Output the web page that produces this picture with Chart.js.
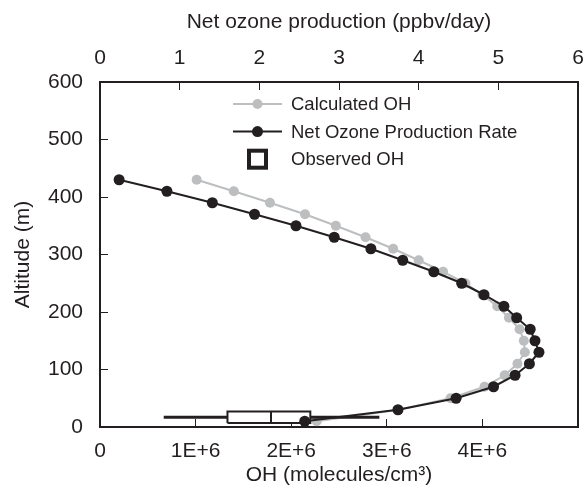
<!DOCTYPE html>
<html>
<head>
<meta charset="utf-8">
<script src="https://cdn.jsdelivr.net/npm/chart.js@4.4.0/dist/chart.umd.min.js"></script>
<style>
	html, body { margin: 0; padding: 0; background: #fff; }
	#wrap { width: 585px; height: 500px; }
</style>
</head>
<body>
<div id="wrap"><canvas id="chart-ozone-oh"></canvas></div>
<script>
//---------------------------------------------------------
// Data
//---------------------------------------------------------
const ALTITUDE = [430, 410, 390, 370, 350, 330, 310, 290, 270, 250, 230, 210, 190, 170, 150, 130, 110, 90, 70, 50, 30, 10];
// ppbv/day (top axis)
const NET_OZONE = [0.24, 0.84, 1.41, 1.94, 2.46, 2.94, 3.40, 3.80, 4.19, 4.54, 4.82, 5.07, 5.23, 5.40, 5.46, 5.51, 5.39, 5.21, 4.94, 4.47, 3.74, 2.57];
// molecules/cm3 (bottom axis)
const CALC_OH = [0.91e6, 1.26e6, 1.60e6, 1.93e6, 2.22e6, 2.50e6, 2.76e6, 3.00e6, 3.23e6, 3.44e6, 3.60e6, 3.74e6, 3.85e6, 3.95e6, 3.99e6, 4.00e6, 3.93e6, 3.81e6, 3.62e6, 3.30e6, 2.81e6, 2.04e6];
// observed OH box: [low whisker, q1, median, q3, high whisker] at one altitude
const OBS_ALTITUDE = 17;
const OBS_OH = [0.60e6, 1.20e6, 1.61e6, 1.98e6, 2.63e6];

const OH_TICK_LABELS = ["0", "1E+6", "2E+6", "3E+6", "4E+6"];
const OZONE_TICK_LABELS = ["0", "1", "2", "3", "4", "5", "6"];
const ALT_TICK_LABELS = ["0", "100", "200", "300", "400", "500", "600"];

const BLACK = "#231f20";
const GRAY = "#bcbec0";
const FONT_FAMILY = "'Liberation Sans', Arial, sans-serif";
const BOX_HALF = 10;

Chart.defaults.font.family = FONT_FAMILY;
Chart.defaults.color = BLACK;

const toPoints = (xs, ys) => xs.map((v, i) => ({ x: v, y: ys[i] }));

const [whiskLo, q1, median, q3, whiskHi] = OBS_OH;

//---------------------------------------------------------
// Legend drawn inside the plot area
//---------------------------------------------------------
const insideLegend = {
	id: "insideLegend",
	afterDatasetsDraw(chart, args, opts) {
		const { ctx, chartArea } = chart;
		const x0 = chartArea.left + opts.offsetX;
		const cx = x0 + opts.iconWidth / 2;
		let y = chartArea.top + opts.offsetY;
		ctx.save();
		chart.data.datasets.forEach((ds) => {
			if (!ds.legendIcon) return;
			if (ds.legendIcon === "line") {
				ctx.strokeStyle = ds.borderColor;
				ctx.lineWidth = ds.borderWidth;
				ctx.beginPath();
				ctx.moveTo(x0, y);
				ctx.lineTo(x0 + opts.iconWidth, y);
				ctx.stroke();
				ctx.fillStyle = ds.pointBackgroundColor;
				ctx.beginPath();
				ctx.arc(cx, y, ds.pointRadius, 0, Math.PI * 2);
				ctx.fill();
			} else {
				ctx.strokeStyle = ds.borderColor;
				ctx.lineWidth = 4;
				ctx.strokeRect(cx - 8.5, y - 8.5, 17, 17);
			}
			ctx.fillStyle = BLACK;
			ctx.font = opts.font;
			ctx.textAlign = "left";
			ctx.textBaseline = "middle";
			ctx.fillText(ds.label, x0 + opts.iconWidth + opts.gap, y + 1);
			y += opts.rowHeight;
		});
		ctx.restore();
	},
};

//---------------------------------------------------------
// Chart data
//---------------------------------------------------------
const CHART_DATA = {
	datasets: [
		{
			label: "Calculated OH",
			legendIcon: "line",
			data: toPoints(CALC_OH, ALTITUDE),
			xAxisID: "x",
			showLine: true,
			borderColor: GRAY,
			borderWidth: 2,
			pointRadius: 5,
			pointBackgroundColor: GRAY,
			pointBorderWidth: 0,
			order: 4,
		},
		{
			label: "Net Ozone Production Rate",
			legendIcon: "line",
			data: toPoints(NET_OZONE, ALTITUDE),
			xAxisID: "x2",
			showLine: true,
			borderColor: BLACK,
			borderWidth: 2,
			pointRadius: 5.5,
			pointBackgroundColor: BLACK,
			pointBorderWidth: 0,
			order: 0,
		},
		{
			label: "Observed OH",
			legendIcon: "box",
			data: [
				{ x: q1, y: OBS_ALTITUDE - BOX_HALF },
				{ x: q3, y: OBS_ALTITUDE - BOX_HALF },
				{ x: q3, y: OBS_ALTITUDE + BOX_HALF },
				{ x: q1, y: OBS_ALTITUDE + BOX_HALF },
				{ x: q1, y: OBS_ALTITUDE - BOX_HALF },
			],
			showLine: true,
			fill: "shape",
			backgroundColor: "#ffffff",
			borderColor: BLACK,
			borderWidth: 2,
			pointRadius: 0,
			order: 2,
		},
		{
			// median
			label: "",
			data: [{ x: median, y: OBS_ALTITUDE - BOX_HALF }, { x: median, y: OBS_ALTITUDE + BOX_HALF }],
			showLine: true,
			borderColor: BLACK,
			borderWidth: 2,
			pointRadius: 0,
			order: 1,
		},
		{
			// whiskers
			label: "",
			data: [{ x: whiskLo, y: OBS_ALTITUDE }, { x: whiskHi, y: OBS_ALTITUDE }],
			showLine: true,
			borderColor: BLACK,
			borderWidth: 3,
			pointRadius: 0,
			order: 3,
		},
	],
};

const tickFont = { size: 21 };
const titleFont = { size: 21 };

// keep the plot area fixed: no label overhang padding
const noPad = (s) => {
	s.paddingLeft = 0;
	s.paddingRight = 0;
	s.paddingTop = 0;
	s.paddingBottom = 0;
};

//---------------------------------------------------------
// Chart config
//---------------------------------------------------------
const CHART_CONFIG = {
	type: "scatter",
	data: CHART_DATA,
	options: {
		responsive: true,
		maintainAspectRatio: false,
		animation: false,
		layout: { padding: 0 },
		scales: {
			x: {
				type: "linear",
				position: "bottom",
				min: 0,
				max: 4.5e6,
				border: { color: BLACK, width: 2 },
				grid: { drawOnChartArea: false, tickLength: -8, color: BLACK, lineWidth: 1 },
				ticks: {
					stepSize: 1e6,
					includeBounds: false,
					font: tickFont,
					color: BLACK,
					padding: 20,
					maxRotation: 0,
					callback: (v, i) => OH_TICK_LABELS[i],
				},
				title: {
					display: true,
					text: "OH (molecules/cm³)",
					font: titleFont,
					color: BLACK,
					padding: { top: 0, bottom: 12 },
				},
				afterFit: (s) => { s.height = 73; noPad(s); },
			},
			x2: {
				type: "linear",
				position: "top",
				min: 0,
				max: 6,
				border: { color: BLACK, width: 2 },
				grid: { drawOnChartArea: false, tickLength: -8, color: BLACK, lineWidth: 1 },
				ticks: {
					stepSize: 1,
					font: tickFont,
					color: BLACK,
					padding: 19,
					maxRotation: 0,
					callback: (v, i) => OZONE_TICK_LABELS[i],
				},
				title: {
					display: true,
					text: "Net ozone production (ppbv/day)",
					font: titleFont,
					color: BLACK,
					padding: { top: 10, bottom: 0 },
				},
				afterFit: (s) => { s.height = 82; noPad(s); },
			},
			y: {
				type: "linear",
				position: "left",
				min: 0,
				max: 600,
				border: { color: BLACK, width: 2 },
				grid: { drawOnChartArea: false, tickLength: -8, color: BLACK, lineWidth: 1 },
				ticks: {
					stepSize: 100,
					font: tickFont,
					color: BLACK,
					padding: 25,
					callback: (v, i) => ALT_TICK_LABELS[i],
				},
				title: {
					display: true,
					text: "Altitude (m)",
					font: titleFont,
					color: BLACK,
					padding: { top: 11, bottom: 0 },
				},
				afterFit: (s) => { s.width = 100; noPad(s); },
			},
			y2: {
				type: "linear",
				position: "right",
				min: 0,
				max: 600,
				border: { color: BLACK, width: 2 },
				grid: { drawOnChartArea: false, drawTicks: false },
				ticks: { display: false },
				afterFit: (s) => { s.width = 7; noPad(s); },
			},
		},
		plugins: {
			legend: { display: false },
			tooltip: { enabled: false },
			insideLegend: {
				offsetX: 133,
				offsetY: 22,
				iconWidth: 49,
				gap: 9,
				rowHeight: 27.6,
				font: "18.5px " + FONT_FAMILY,
			},
		},
	},
	plugins: [insideLegend],
};

// Chart init
const CHART_WRAPPER = document.getElementById("chart-ozone-oh");
if (CHART_WRAPPER) {
	new Chart(CHART_WRAPPER, CHART_CONFIG);
}
</script>
</body>
</html>
